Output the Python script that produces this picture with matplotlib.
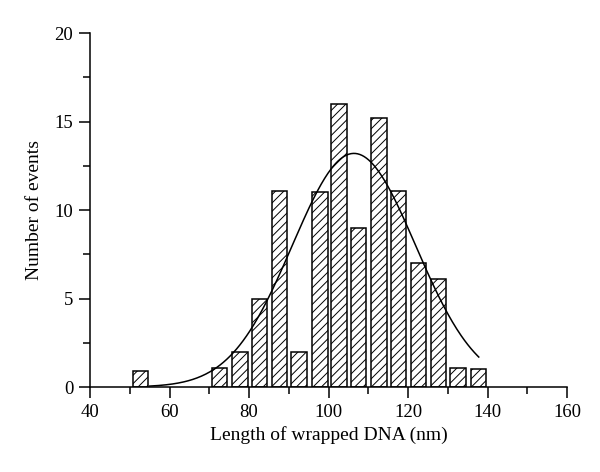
import numpy as np
import matplotlib.pyplot as plt
from matplotlib.ticker import MultipleLocator

# ==============================
# Data
# ==============================
bin_centers = [52.7, 72.6, 77.7, 82.6, 87.7, 92.6, 97.8, 102.6,
               107.6, 112.7, 117.6, 122.7, 127.7, 132.6, 137.7]
counts = [0.9, 1.1, 2.0, 5.0, 11.1, 2.0, 11.0, 16.0,
          9.0, 15.2, 11.05, 7.0, 6.1, 1.1, 1.0]
bar_width = 3.9

# Gaussian fit parameters
fit_center = 106.4
fit_amp = 13.2
fit_sigma = 15.5
fit_start, fit_end = 55.0, 137.8

# ==============================
# Figure
# ==============================
plt.rcParams["font.family"] = ["Liberation Serif", "DejaVu Serif"]
plt.rcParams["hatch.linewidth"] = 0.7

fig = plt.figure(figsize=(6.0, 4.72), dpi=100)
ax = fig.add_axes([0.15, 0.18, 0.795, 0.75])

ax.bar(bin_centers, counts, width=bar_width, color="white",
       edgecolor="black", linewidth=1.1, hatch="////", zorder=2)

xfit = np.linspace(fit_start, fit_end, 300)
yfit = fit_amp * np.exp(-(xfit - fit_center) ** 2 / (2 * fit_sigma ** 2))
ax.plot(xfit, yfit, color="black", linewidth=1.1, zorder=3)

ax.set_xlim(40, 160)
ax.set_ylim(0, 20)
ax.xaxis.set_major_locator(MultipleLocator(20))
ax.xaxis.set_minor_locator(MultipleLocator(10))
ax.yaxis.set_major_locator(MultipleLocator(5))
ax.yaxis.set_minor_locator(MultipleLocator(2.5))

for side in ["top", "right"]:
    ax.spines[side].set_visible(False)
for side in ["left", "bottom"]:
    ax.spines[side].set_linewidth(1.1)

ax.tick_params(which="major", direction="out", length=8, width=1.1,
               labelsize=13.5, pad=4)
ax.tick_params(which="minor", direction="out", length=5, width=1.1)

ax.set_xlabel("Length of wrapped DNA (nm)", fontsize=14, labelpad=4)
ax.set_ylabel("Number of events", fontsize=14, labelpad=8)

fig.savefig("out.png", dpi=100)
